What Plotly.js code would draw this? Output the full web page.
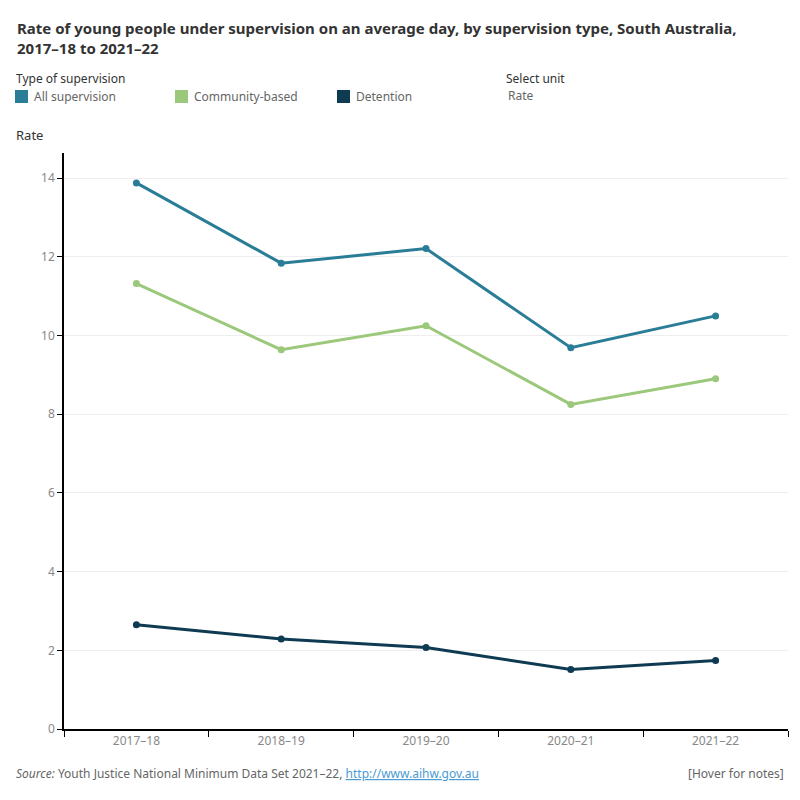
<!DOCTYPE html>
<html>
<head>
<meta charset="utf-8">
<script src="https://cdn.plot.ly/plotly-3.0.1.min.js"></script>
<style>html,body{margin:0;padding:0;background:#fff;}#chart{width:800px;height:800px;}</style>
</head>
<body>
<div id="chart"></div>
<script>
var years = ["2017–18", "2018–19", "2019–20", "2020–21", "2021–22"];
var allSupervision = [13.88, 11.84, 12.21, 9.69, 10.50];
var communityBased = [11.32, 9.64, 10.25, 8.25, 8.90];
var detention = [2.65, 2.29, 2.07, 1.51, 1.74];
var seriesNames = ["All supervision", "Community-based", "Detention"];
var seriesColors = ["#2a7d97", "#9bc87a", "#0e3a52"];
var yTicks = [0, 2, 4, 6, 8, 10, 12, 14];

var FONT = "Noto Sans, Open Sans, sans-serif";
var seriesData = [allSupervision, communityBased, detention];
var traces = seriesData.map(function (vals, i) {
  return {
    type: "scatter", mode: "lines+markers",
    x: years, y: vals, name: seriesNames[i],
    line: {color: seriesColors[i], width: 3},
    marker: {color: seriesColors[i], size: 7},
    hoverinfo: "x+y+name"
  };
});

function px(x) { return (x - 64) / 724; }
function py(y) { return (729 - y) / 576; }
var shapes = [];
var annotations = [
  {xref: "paper", yref: "paper", x: px(15), y: py(38), xanchor: "left", yanchor: "middle", align: "left", showarrow: false,
   text: "<b>Rate of young people under supervision on an average day, by supervision type, South Australia,<br>2017–18 to 2021–22</b>",
   font: {family: FONT, size: 15, color: "#333"}},
];
annotations.push({xref: "paper", yref: "paper", x: px(14), y: py(78), xanchor: "left", yanchor: "middle", showarrow: false,
  text: "Type of supervision", font: {family: FONT, size: 12, color: "#333"}});
annotations.push({xref: "paper", yref: "paper", x: px(504), y: py(78), xanchor: "left", yanchor: "middle", showarrow: false,
  text: "Select unit", font: {family: FONT, size: 12, color: "#333"}});
annotations.push({xref: "paper", yref: "paper", x: px(506), y: py(95), xanchor: "left", yanchor: "middle", showarrow: false,
  text: "Rate", font: {family: FONT, size: 12, color: "#666"}});
var legX = [15, 175, 337];
seriesNames.forEach(function (n, i) {
  shapes.push({type: "rect", xref: "paper", yref: "paper", x0: px(legX[i]), x1: px(legX[i] + 13), y0: py(103), y1: py(90),
    fillcolor: seriesColors[i], line: {width: 0}});
  annotations.push({xref: "paper", yref: "paper", x: px(legX[i] + 17), y: py(97), xanchor: "left", yanchor: "middle", showarrow: false,
    text: n, font: {family: FONT, size: 12, color: "#666"}});
});
annotations.push({xref: "paper", yref: "paper", x: px(14), y: py(135), xanchor: "left", yanchor: "middle", showarrow: false,
  text: "Rate", font: {family: FONT, size: 13, color: "#333"}});
annotations.push({xref: "paper", yref: "paper", x: px(14), y: py(773), xanchor: "left", yanchor: "middle", showarrow: false,
  text: "<i>Source:</i> Youth Justice National Minimum Data Set 2021–22, <span style=\"color:#4a9bd1\"><u>http://www.aihw.gov.au</u></span>",
  font: {family: FONT, size: 12, color: "#666"}});
annotations.push({xref: "paper", yref: "paper", x: px(786), y: py(773), xanchor: "right", yanchor: "middle", showarrow: false,
  text: "[Hover for notes]", font: {family: FONT, size: 12, color: "#666"}});

var layout = {
  width: 800, height: 800,
  margin: {l: 64, r: 12, t: 153, b: 71, pad: 0},
  paper_bgcolor: "#fff", plot_bgcolor: "#fff",
  showlegend: false,
  font: {family: FONT, size: 12, color: "#888"},
  xaxis: {
    type: "category", range: [-0.5, 4.5], tickson: "boundaries",
    ticks: "outside", ticklen: 6, tickcolor: "#000", tickwidth: 1,
    showline: true, linecolor: "#000", linewidth: 1.5,
    showgrid: false, zeroline: false,
    tickfont: {family: FONT, size: 12, color: "#888"}
  },
  yaxis: {
    range: [0, 14.64], tickvals: yTicks, ticktext: yTicks.map(String),
    ticks: "outside", ticklen: 5, tickcolor: "#000", tickwidth: 1,
    showline: true, linecolor: "#000", linewidth: 1.5,
    showgrid: true, gridcolor: "#efefef", gridwidth: 1, zeroline: false,
    tickfont: {family: FONT, size: 12, color: "#888"}
  },
  shapes: shapes,
  annotations: annotations
};
Plotly.newPlot("chart", traces, layout, {displayModeBar: false, responsive: false});
</script>
</body>
</html>
